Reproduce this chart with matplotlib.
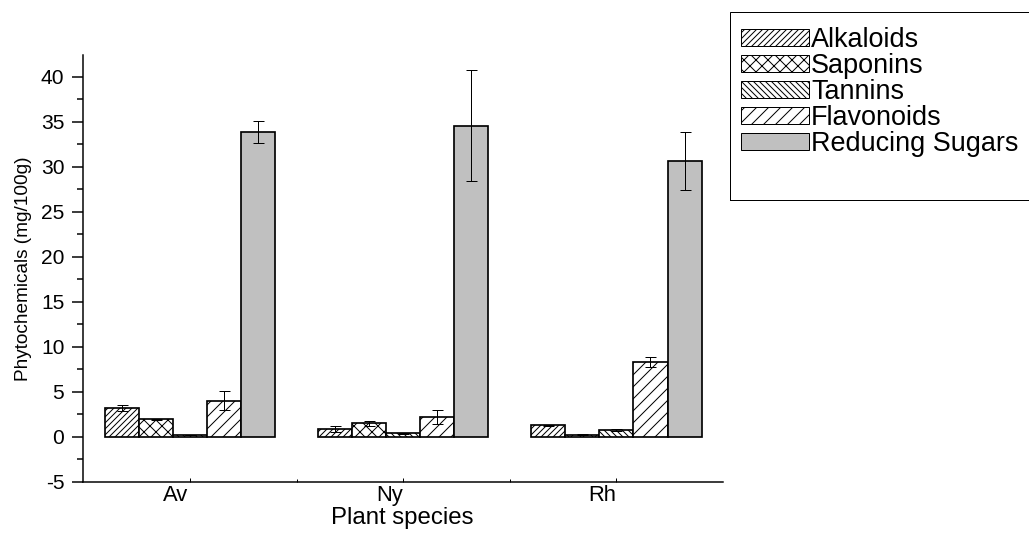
import matplotlib
matplotlib.use("Agg")
import matplotlib.pyplot as plt
import matplotlib.transforms as mtransforms
from matplotlib.patches import Rectangle, Patch
import numpy as np

# --- data ---
species = ["Av", "Ny", "Rh"]
compounds = ["Alkaloids", "Saponins", "Tannins", "Flavonoids", "Reducing Sugars"]

alkaloids = [3.16, 0.86, 1.27]
alkaloids_err = [0.33, 0.30, 0.05]
saponins = [1.93, 1.49, 0.22]
saponins_err = [0.08, 0.25, 0.05]
tannins = [0.19, 0.38, 0.71]
tannins_err = [0.04, 0.05, 0.10]
flavonoids = [4.0, 2.19, 8.33]
flavonoids_err = [1.04, 0.81, 0.55]
sugars = [33.9, 34.56, 30.63]
sugars_err = [1.22, 6.15, 3.2]

values = [alkaloids, saponins, tannins, flavonoids, sugars]
errors = [alkaloids_err, saponins_err, tannins_err, flavonoids_err, sugars_err]

# look of each series: (fill colour, hatch)
styles = [
    ("white", "////"),
    ("white", "xx"),
    ("white", "\\\\\\\\"),
    ("white", "//"),
    ("#c0c0c0", None),
]

plt.rcParams["font.family"] = ["Liberation Sans", "DejaVu Sans"]
plt.rcParams["hatch.linewidth"] = 1.0
plt.rcParams["axes.unicode_minus"] = False

# dpi 72 so that points == pixels
fig = plt.figure(figsize=(1029 / 72, 540 / 72), dpi=72)
ax = fig.add_axes([0.081, 0.108, 0.6216, 0.790])

x = np.arange(len(species))
width = 0.16
for i, (vals, errs) in enumerate(zip(values, errors)):
    color, hatch = styles[i]
    pos = x + (i - 2) * width
    ax.bar(pos, vals, width, color=color, hatch=hatch, edgecolor="black",
           linewidth=1.7, zorder=2)
    ax.errorbar(pos, vals, yerr=errs, fmt="none", ecolor="black",
                elinewidth=1.0, capsize=5.5, capthick=1.0, zorder=3)

ax.set_xlim(-0.5, 2.5)
ax.set_ylim(-5, 42.4)
ax.set_yticks(np.arange(-5, 41, 5))
ax.set_yticks(np.arange(-2.5, 42, 5), minor=True)
ax.set_xticks(x)
ax.set_xticks([0.5, 1.5], minor=True)
ax.set_xticklabels(species)

for s in ["top", "right"]:
    ax.spines[s].set_visible(False)
for s in ["left", "bottom"]:
    ax.spines[s].set_linewidth(1.5)

ax.tick_params(axis="y", which="major", direction="out", length=11, width=1.5,
               labelsize=21, pad=8)
ax.tick_params(axis="y", which="minor", direction="out", length=6, width=1.5)
ax.tick_params(axis="x", which="major", direction="in", length=4, width=1.0,
               labelsize=22, pad=3)
ax.tick_params(axis="x", which="minor", direction="in", length=3, width=1.0)

# the x labels sit a bit left of the group centres in the original
shift = mtransforms.ScaledTranslation(-14 / 72, 0, fig.dpi_scale_trans)
for lab in ax.get_xticklabels():
    lab.set_transform(lab.get_transform() + shift)

ax.set_xlabel("Plant species", fontsize=24)
ax.xaxis.set_label_coords(0.498, -0.060)
ax.set_ylabel("Phytochemicals (mg/100g)", fontsize=19)
ax.yaxis.set_label_coords(-0.080, 0.5)

# legend with its own frame, which runs off the right edge
fig.patches.append(Rectangle((730 / 1029, 1 - 200 / 540), 0.4, 188 / 540,
                             transform=fig.transFigure, fill=False,
                             edgecolor="black", linewidth=1.0))
handles = [Patch(facecolor=c, hatch=h, edgecolor="black", linewidth=1.0)
           for c, h in styles]
fig.legend(handles, compounds, loc="upper left",
           bbox_to_anchor=(741 / 1029, 1 - 27 / 540), frameon=False,
           fontsize=27, handlelength=2.5, handleheight=0.64,
           handletextpad=0.1, labelspacing=0.0, borderpad=0,
           borderaxespad=0)

fig.savefig("out.png", dpi=72)
